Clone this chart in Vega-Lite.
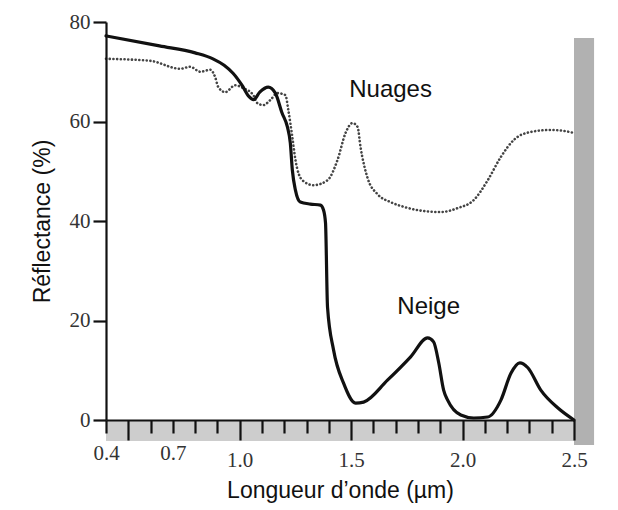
{
  "$schema": "https://vega.github.io/schema/vega-lite/v6.json",
  "autosize": "none",
  "padding": {"left": 106, "top": 22, "right": 43, "bottom": 90},
  "width": 468,
  "height": 398,
  "background": "white",
  "config": {"view": {"stroke": null}},
  "datasets": {
    "shade": [
      {"part": "right", "wl": 2.5, "wl2": 2.59, "r": 76.8, "r2": -5},
      {"part": "bottom", "wl": 0.4, "wl2": 2.5, "r": 0, "r2": -4.2}
    ],
    "snow": [
      {"wl": 0.40, "r": 77.2}, {"wl": 0.64, "r": 75.2}, {"wl": 0.80, "r": 73.8},
      {"wl": 0.88, "r": 72.6}, {"wl": 0.93, "r": 71.3}, {"wl": 0.97, "r": 69.7},
      {"wl": 1.01, "r": 67.3}, {"wl": 1.04, "r": 65.1}, {"wl": 1.062, "r": 64.4},
      {"wl": 1.09, "r": 65.9}, {"wl": 1.128, "r": 66.9},
      {"wl": 1.16, "r": 65.7}, {"wl": 1.19, "r": 61.7}, {"wl": 1.214, "r": 58.9},
      {"wl": 1.227, "r": 55.7}, {"wl": 1.236, "r": 50.3}, {"wl": 1.25, "r": 46.2},
      {"wl": 1.272, "r": 43.8}, {"wl": 1.317, "r": 43.4}, {"wl": 1.362, "r": 43.2},
      {"wl": 1.376, "r": 42.2}, {"wl": 1.385, "r": 39.6}, {"wl": 1.394, "r": 22.7},
      {"wl": 1.421, "r": 14.1}, {"wl": 1.466, "r": 7.4}, {"wl": 1.52, "r": 3.4},
      {"wl": 1.556, "r": 3.6}, {"wl": 1.663, "r": 8.0}, {"wl": 1.767, "r": 12.7},
      {"wl": 1.843, "r": 16.5}, {"wl": 1.87, "r": 15.7}, {"wl": 1.893, "r": 11.5},
      {"wl": 1.915, "r": 6.0}, {"wl": 1.933, "r": 4.0}, {"wl": 1.992, "r": 1.0},
      {"wl": 2.05, "r": 0.4}, {"wl": 2.113, "r": 0.6}, {"wl": 2.172, "r": 4.0},
      {"wl": 2.217, "r": 9.4}, {"wl": 2.257, "r": 11.5}, {"wl": 2.293, "r": 10.5},
      {"wl": 2.351, "r": 6.0}, {"wl": 2.428, "r": 2.4}, {"wl": 2.5, "r": 0}
    ],
    "clouds": [
      {"wl": 0.40, "r": 72.6}, {"wl": 0.598, "r": 72.2}, {"wl": 0.733, "r": 70.6},
      {"wl": 0.778, "r": 71.0}, {"wl": 0.823, "r": 70.0}, {"wl": 0.868, "r": 70.4},
      {"wl": 0.89, "r": 68.9}, {"wl": 0.904, "r": 66.9}, {"wl": 0.935, "r": 65.9},
      {"wl": 0.98, "r": 67.3}, {"wl": 1.016, "r": 66.7}, {"wl": 1.061, "r": 65.3},
      {"wl": 1.079, "r": 63.7}, {"wl": 1.106, "r": 63.3}, {"wl": 1.137, "r": 64.3},
      {"wl": 1.169, "r": 65.7}, {"wl": 1.205, "r": 65.3}, {"wl": 1.218, "r": 62.3},
      {"wl": 1.236, "r": 56.9}, {"wl": 1.25, "r": 52.3}, {"wl": 1.281, "r": 48.2},
      {"wl": 1.331, "r": 47.2}, {"wl": 1.394, "r": 48.2}, {"wl": 1.439, "r": 52.3},
      {"wl": 1.475, "r": 57.7}, {"wl": 1.506, "r": 59.7}, {"wl": 1.529, "r": 58.9},
      {"wl": 1.542, "r": 54.9}, {"wl": 1.574, "r": 48.6}, {"wl": 1.618, "r": 45.4},
      {"wl": 1.677, "r": 43.8}, {"wl": 1.74, "r": 42.8}, {"wl": 1.81, "r": 42.1},
      {"wl": 1.902, "r": 41.8},
      {"wl": 1.978, "r": 42.6}, {"wl": 2.05, "r": 44.2}, {"wl": 2.113, "r": 48.2},
      {"wl": 2.172, "r": 52.9}, {"wl": 2.23, "r": 56.3}, {"wl": 2.306, "r": 57.9},
      {"wl": 2.396, "r": 58.3}, {"wl": 2.455, "r": 58.1}, {"wl": 2.5, "r": 57.7}
    ],
    "names": [
      {"wl": 1.677, "r": 66.3, "name": "Nuages"},
      {"wl": 1.848, "r": 22.7, "name": "Neige"}
    ]
  },
  "layer": [
    {
      "data": {"name": "shade"},
      "mark": {"type": "rect", "clip": false},
      "encoding": {
        "x": {
          "field": "wl", "type": "quantitative",
          "scale": {"domain": [0.4, 2.5], "nice": false, "zero": false},
          "axis": {
            "title": "Longueur d’onde (µm)",
            "values": [0.4, 0.5, 0.6, 0.7, 0.8, 0.9, 1.0, 1.1, 1.2, 1.3, 1.4, 1.5, 1.6, 1.7, 1.8, 1.9, 2.0, 2.1, 2.2, 2.3, 2.4, 2.5],
            "tickCount": 40,
            "labelExpr": "indexof(['0.4','0.7','1.0','1.5','2.0','2.5'], format(datum.value, '.1f')) >= 0 ? format(datum.value, '.1f') : ''",
            "labelOverlap": false,
            "labelFlush": false,
            "labelFont": "Liberation Serif",
            "labelFontSize": 21,
            "labelColor": "#333",
            "labelPadding": 9,
            "tickSize": {"condition": {"test": "abs(datum.value * 2 - round(datum.value * 2)) < 0.001 && datum.value > 0.45", "value": 20}, "value": 13},
            "tickWidth": 2.2,
            "tickColor": "#111",
            "domainColor": "#111",
            "domainWidth": 2.2,
            "grid": false,
            "titleFont": "Liberation Sans",
            "titleFontSize": 23,
            "titleFontWeight": "normal",
            "titleColor": "#111",
            "titlePadding": 9,
            "zindex": 1
          }
        },
        "x2": {"field": "wl2"},
        "y": {
          "field": "r", "type": "quantitative",
          "scale": {"domain": [0, 80], "nice": false},
          "axis": {
            "title": "Réflectance (%)",
            "values": [0, 20, 40, 60, 80],
            "labelFont": "Liberation Serif",
            "labelFontSize": 21,
            "labelColor": "#333",
            "labelPadding": 3,
            "tickSize": 13,
            "tickWidth": 2.2,
            "tickColor": "#111",
            "domainColor": "#111",
            "domainWidth": 2.2,
            "grid": false,
            "titleFont": "Liberation Sans",
            "titleFontSize": 23,
            "titleFontWeight": "normal",
            "titleColor": "#111",
            "titlePadding": 15,
            "zindex": 1
          }
        },
        "y2": {"field": "r2"},
        "color": {
          "field": "part", "type": "nominal", "legend": null,
          "scale": {"domain": ["right", "bottom"], "range": ["#a8a8a8", "#c8c8c8"]}
        },
        "opacity": {"value": 0.9}
      }
    },
    {
      "data": {"name": "clouds"},
      "mark": {"type": "line", "interpolate": "monotone", "stroke": "#444", "strokeWidth": 2.6, "strokeDash": [0.1, 3.6], "strokeCap": "round"},
      "encoding": {
        "x": {"field": "wl", "type": "quantitative"},
        "y": {"field": "r", "type": "quantitative"}
      }
    },
    {
      "data": {"name": "snow"},
      "mark": {"type": "line", "interpolate": "monotone", "stroke": "#111", "strokeWidth": 3.2, "strokeJoin": "round", "strokeCap": "round"},
      "encoding": {
        "x": {"field": "wl", "type": "quantitative"},
        "y": {"field": "r", "type": "quantitative"}
      }
    },
    {
      "data": {"name": "names"},
      "mark": {"type": "text", "font": "Liberation Sans", "fontSize": 24, "color": "#111", "align": "center", "baseline": "middle"},
      "encoding": {
        "x": {"field": "wl", "type": "quantitative"},
        "y": {"field": "r", "type": "quantitative"},
        "text": {"field": "name"}
      }
    }
  ]
}
